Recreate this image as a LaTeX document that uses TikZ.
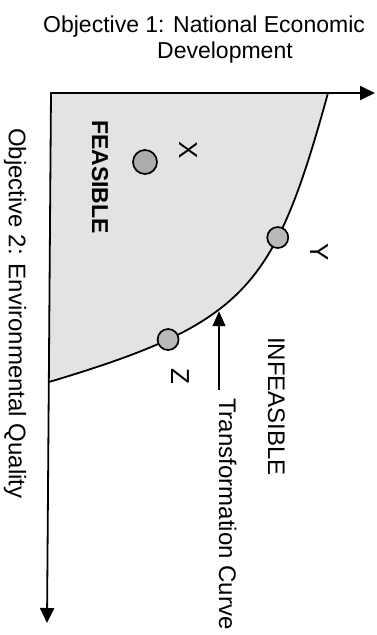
\documentclass[tikz,border=0pt]{standalone}
\usepackage{fontspec}
\setmainfont{Liberation Sans}
\usetikzlibrary{arrows.meta, positioning}

\newcommand{\labelfont}{\fontsize{24}{28}\selectfont}

\begin{document}
\begin{tikzpicture}[
    x=1pt, y=-1pt,
    axis/.style={line width=1.8pt, line join=miter, {Triangle[length=15pt, width=14pt]}-{Triangle[length=15pt, width=14pt]}},
    curveline/.style={line width=1.8pt},
    feasible/.style={fill=gray!22},
    point/.style={circle, draw=black, line width=1.7pt, fill=gray!55, minimum size=21pt, inner sep=0pt},
    rlabel/.style={font=\labelfont, rotate=-90, anchor=base west, inner sep=0pt},
    letter/.style={font=\fontsize{26}{30}\selectfont, rotate=-90, inner sep=0pt},
    arrow/.style={line width=1.3pt, -{Triangle[length=15pt, width=13pt]}}
]
    \useasboundingbox (0,0) rectangle (377,635);

    \coordinate (origin) at (51,93);
    \coordinate (xend) at (375,93);
    \coordinate (yend) at (47,623);
    \coordinate (ctop) at (328,93);
    \coordinate (cbot) at (49,382);

    % feasible region
    \fill[feasible] (origin) -- (ctop) .. controls (274,289) and (246,323) .. (cbot) -- cycle;

    % axes
    \draw[axis] (xend) -- (origin) -- (yend);

    % transformation curve
    \draw[curveline] (ctop) .. controls (274,289) and (246,323) .. (cbot)
        node[point, pos=0.32] (py) {}
        coordinate[pos=0.6] (cp)
        node[point, pos=0.75] (pz) {};

    \node[point, fill=gray!65, minimum size=24pt] (px) at (145,162) {};

    \node[letter] (lx) at (188,150) {X};
    \node[letter] (ly) at (319,252) {Y};
    \node[letter] (lz) at (180,376) {Z};

    \node[font=\fontsize{23}{26}\selectfont, align=left, anchor=base west, inner sep=0pt] (obj1) at (43,58)
        {Objective 1: National Economic\\\hspace*{114pt}Development};
    \node[rlabel] (obj2) at (9,128) {Objective 2: Environmental Quality};
    \node[rlabel, font=\bfseries\fontsize{23}{27}\selectfont] (feas) at (92,120) {FEASIBLE};
    \node[rlabel] (infeas) at (268,337) {INFEASIBLE};
    \node[rlabel] (tc) at (219,398) {Transformation Curve};

    \draw[arrow, shorten <=8pt] (tc.base west) -- (tc.base west |- cp);
\end{tikzpicture}
\end{document}
